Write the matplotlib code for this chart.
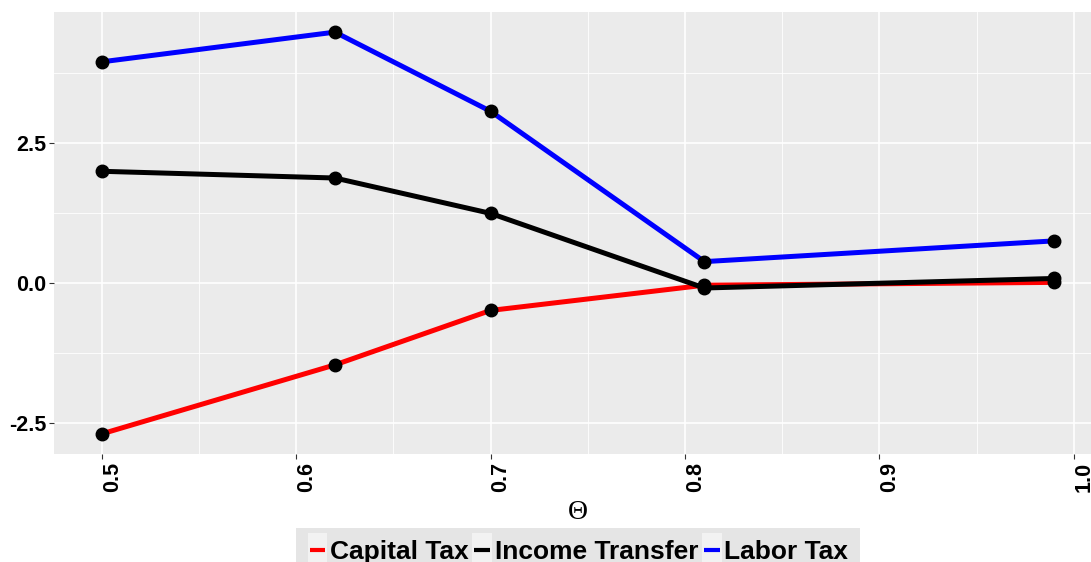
import matplotlib
matplotlib.use("Agg")
import matplotlib.pyplot as plt
import numpy as np
from matplotlib.lines import Line2D
from matplotlib.patches import Rectangle
from matplotlib.legend_handler import HandlerBase

# Theta grid and the three policy series
theta = [0.50, 0.62, 0.70, 0.81, 0.99]
capital_tax = [-2.69, -1.46, -0.49, -0.04, 0.01]
income_transfer = [1.99, 1.87, 1.24, -0.09, 0.08]
labor_tax = [3.94, 4.47, 3.06, 0.38, 0.75]

series_names = ["Capital Tax", "Income Transfer", "Labor Tax"]
series_colors = ["#FF0000", "#000000", "#0000FF"]

x_ticks = [0.5, 0.6, 0.7, 0.8, 0.9, 1.0]
x_tick_labels = ["0.5", "0.6", "0.7", "0.8", "0.9", "1.0"]
y_ticks = [-2.5, 0.0, 2.5]
y_tick_labels = ["-2.5", "0.0", "2.5"]

plt.rcParams["font.family"] = ["Liberation Sans", "DejaVu Sans"]

fig = plt.figure(figsize=(10.91, 5.62), dpi=100)
ax = fig.add_axes([0.0495, 0.1922, 0.9606, 0.7864])
ax.set_facecolor("#EBEBEB")
for s in ax.spines.values():
    s.set_visible(False)

# ggplot-style 5% expansion of the data range
allx = np.array(theta)
ally = np.concatenate([capital_tax, income_transfer, labor_tax])
dx = (allx.max() - allx.min()) * 0.05
dy = (ally.max() - ally.min()) * 0.05
ax.set_xlim(allx.min() - dx, allx.max() + dx)
ax.set_ylim(ally.min() - dy, ally.max() + dy)

ax.set_xticks(x_ticks)
ax.set_xticklabels(x_tick_labels)
ax.set_yticks(y_ticks)
ax.set_yticklabels(y_tick_labels)
ax.set_xticks([0.55, 0.65, 0.75, 0.85, 0.95], minor=True)
ax.set_yticks([-1.25, 1.25, 3.75], minor=True)

ax.grid(which="major", color="white", linewidth=1.2)
ax.grid(which="minor", color="white", linewidth=0.6)
ax.set_axisbelow(True)
ax.tick_params(which="major", length=3.5, width=0.8, color="#333333",
               labelsize=15.5, pad=2)
ax.tick_params(which="minor", length=0)
for lab in ax.get_yticklabels():
    lab.set_fontweight("bold")
    lab.set_color("black")
for lab in ax.get_xticklabels():
    lab.set_fontweight("bold")
    lab.set_color("black")
    lab.set_rotation(90)
    lab.set_ha("left")
    lab.set_va("top")
    lab.set_fontsize(15.5)

for vals, col in zip([capital_tax, income_transfer, labor_tax], series_colors):
    ax.plot(theta, vals, color=col, linewidth=3.6, solid_capstyle="butt", zorder=3)
for vals in [capital_tax, income_transfer, labor_tax]:
    ax.plot(theta, vals, linestyle="none", marker="o", markersize=9,
            color="black", zorder=4)

ax.set_xlabel("\u0398", family=["Liberation Serif", "DejaVu Serif"], fontsize=20,
              labelpad=6)


class KeyHandler(HandlerBase):
    def create_artists(self, legend, orig_handle, xdescent, ydescent,
                       width, height, fontsize, trans):
        bg = Rectangle((-xdescent, -ydescent - 0.5 * height), width, height * 1.9,
                       facecolor="#F2F2F2", edgecolor="none", transform=trans)
        y = -ydescent + height * 0.5
        ln = Line2D([-xdescent + 0.1 * width, -xdescent + 0.9 * width], [y, y],
                    color=orig_handle.get_color(), linewidth=3.0,
                    solid_capstyle="butt", transform=trans)
        return [bg, ln]


handles = [Line2D([], [], color=c) for c in series_colors]
leg = fig.legend(handles, series_names, loc="center", ncol=3,
                 bbox_to_anchor=(578 / 1091, 1 - 552 / 562),
                 handler_map={Line2D: KeyHandler()},
                 prop={"family": ["Liberation Sans"], "weight": "bold", "size": 19},
                 frameon=True, fancybox=False, facecolor="#E5E5E5", edgecolor="none",
                 framealpha=1, handlelength=0.75, handleheight=0.7,
                 handletextpad=0.1, columnspacing=0.14, borderpad=0.45,
                 borderaxespad=0)

fig.savefig("out.png", dpi=100)
